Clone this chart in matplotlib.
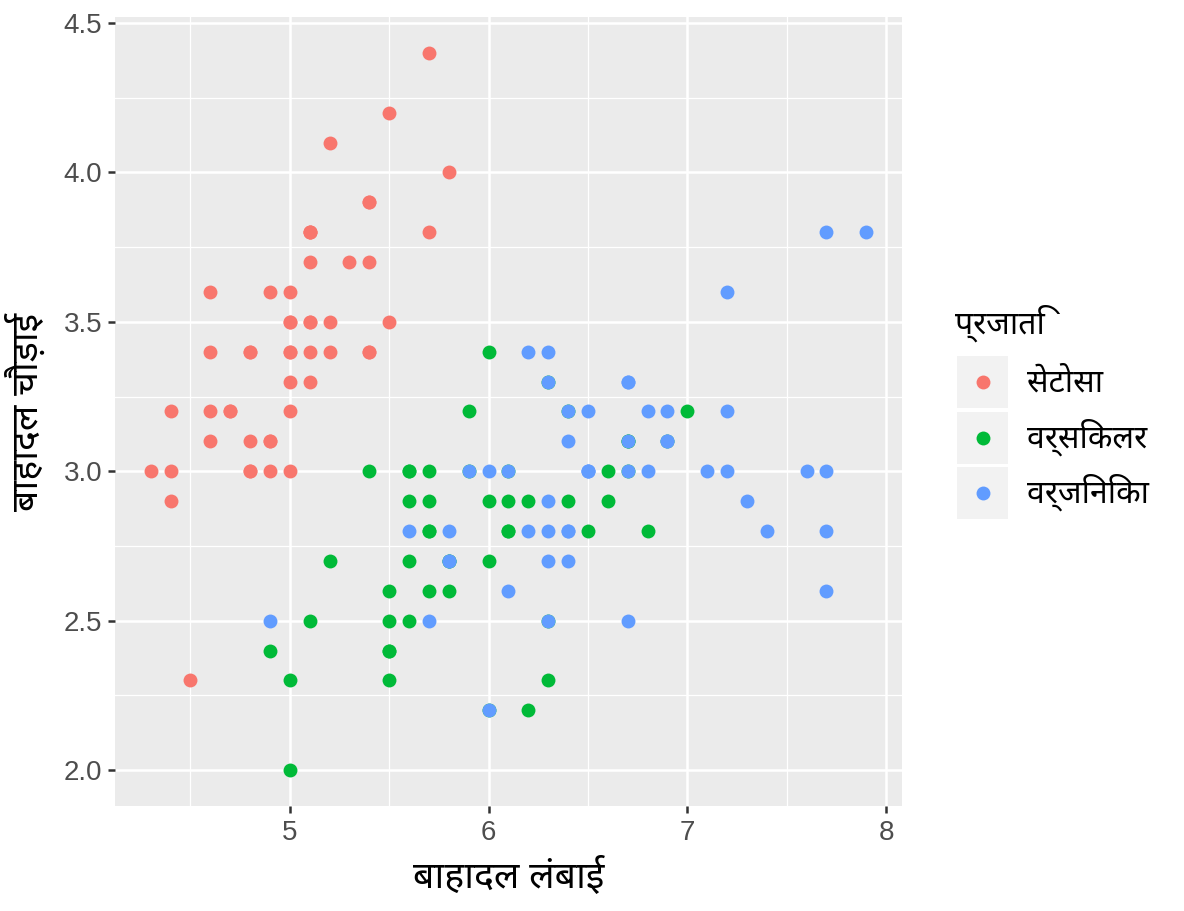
import matplotlib
matplotlib.use("Agg")
import matplotlib.pyplot as plt
from matplotlib.patches import Rectangle
from matplotlib.lines import Line2D

plt.rcParams["font.family"] = ["Noto Sans Devanagari", "Hind", "DejaVu Sans"]

# iris: sepal length / sepal width per species
species = ["सेटोसा", "वर्सिकलर", "वर्जिनिका"]
colors = ["#F8766D", "#00BA38", "#619CFF"]

setosa_len = [5.1, 4.9, 4.7, 4.6, 5.0, 5.4, 4.6, 5.0, 4.4, 4.9, 5.4, 4.8, 4.8, 4.3, 5.8, 5.7, 5.4,
              5.1, 5.7, 5.1, 5.4, 5.1, 4.6, 5.1, 4.8, 5.0, 5.0, 5.2, 5.2, 4.7, 4.8, 5.4, 5.2, 5.5,
              4.9, 5.0, 5.5, 4.9, 4.4, 5.1, 5.0, 4.5, 4.4, 5.0, 5.1, 4.8, 5.1, 4.6, 5.3, 5.0]
setosa_wid = [3.5, 3.0, 3.2, 3.1, 3.6, 3.9, 3.4, 3.4, 2.9, 3.1, 3.7, 3.4, 3.0, 3.0, 4.0, 4.4, 3.9,
              3.5, 3.8, 3.8, 3.4, 3.7, 3.6, 3.3, 3.4, 3.0, 3.4, 3.5, 3.4, 3.2, 3.1, 3.4, 4.1, 4.2,
              3.1, 3.2, 3.5, 3.6, 3.0, 3.4, 3.5, 2.3, 3.2, 3.5, 3.8, 3.0, 3.8, 3.2, 3.7, 3.3]
versi_len = [7.0, 6.4, 6.9, 5.5, 6.5, 5.7, 6.3, 4.9, 6.6, 5.2, 5.0, 5.9, 6.0, 6.1, 5.6, 6.7, 5.6,
             5.8, 6.2, 5.6, 5.9, 6.1, 6.3, 6.1, 6.4, 6.6, 6.8, 6.7, 6.0, 5.7, 5.5, 5.5, 5.8, 6.0,
             5.4, 6.0, 6.7, 6.3, 5.6, 5.5, 5.5, 6.1, 5.8, 5.0, 5.6, 5.7, 5.7, 6.2, 5.1, 5.7]
versi_wid = [3.2, 3.2, 3.1, 2.3, 2.8, 2.8, 3.3, 2.4, 2.9, 2.7, 2.0, 3.0, 2.2, 2.9, 2.9, 3.1, 3.0,
             2.7, 2.2, 2.5, 3.2, 2.8, 2.5, 2.8, 2.9, 3.0, 2.8, 3.0, 2.9, 2.6, 2.4, 2.4, 2.7, 2.7,
             3.0, 3.4, 3.1, 2.3, 3.0, 2.5, 2.6, 3.0, 2.6, 2.3, 2.7, 3.0, 2.9, 2.9, 2.5, 2.8]
virg_len = [6.3, 5.8, 7.1, 6.3, 6.5, 7.6, 4.9, 7.3, 6.7, 7.2, 6.5, 6.4, 6.8, 5.7, 5.8, 6.4, 6.5,
            7.7, 7.7, 6.0, 6.9, 5.6, 7.7, 6.3, 6.7, 7.2, 6.2, 6.1, 6.4, 7.2, 7.4, 7.9, 6.4, 6.3,
            6.1, 7.7, 6.3, 6.4, 6.0, 6.9, 6.7, 6.9, 5.8, 6.8, 6.7, 6.7, 6.3, 6.5, 6.2, 5.9]
virg_wid = [3.3, 2.7, 3.0, 2.9, 3.0, 3.0, 2.5, 2.9, 2.5, 3.6, 3.2, 2.7, 3.0, 2.5, 2.8, 3.2, 3.0,
            3.8, 2.6, 2.2, 3.2, 2.8, 2.8, 2.7, 3.3, 3.2, 2.8, 3.0, 2.8, 3.0, 2.8, 3.8, 2.8, 2.8,
            2.6, 3.0, 3.4, 3.1, 3.0, 3.1, 3.1, 3.1, 2.7, 3.2, 3.3, 3.0, 2.5, 3.0, 3.4, 3.0]

x_ticks = [5, 6, 7, 8]
y_ticks = [2.0, 2.5, 3.0, 3.5, 4.0, 4.5]

fig = plt.figure(figsize=(11.84, 9.11), dpi=100)
ax = fig.add_axes([0.0971, 0.1153, 0.6647, 0.866])
ax.set_facecolor("#EBEBEB")
for s in ax.spines.values():
    s.set_visible(False)

for lx, wy, c in zip([setosa_len, versi_len, virg_len], [setosa_wid, versi_wid, virg_wid], colors):
    ax.scatter(lx, wy, s=100, color=c, linewidths=0, zorder=3)

ax.set_xlim(4.12, 8.08)
ax.set_ylim(1.88, 4.52)
ax.set_xticks(x_ticks)
ax.set_xticklabels([str(v) for v in x_ticks])
ax.set_yticks(y_ticks)
ax.set_yticklabels([f"{v:.1f}" for v in y_ticks])
ax.set_xticks([4.5, 5.5, 6.5, 7.5], minor=True)
ax.set_yticks([2.25, 2.75, 3.25, 3.75, 4.25], minor=True)
ax.grid(which="major", color="white", linewidth=1.8, zorder=0)
ax.grid(which="minor", color="white", linewidth=0.9, zorder=0)
ax.set_axisbelow(True)
ax.tick_params(which="major", length=5, width=1.8, color="#333333", labelcolor="#4D4D4D",
               labelsize=20, pad=4, labelfontfamily="Liberation Sans")
ax.tick_params(axis="x", which="major", pad=5)
ax.tick_params(which="minor", length=0)

ax.set_xlabel("बाहादल लंबाई", fontsize=27, labelpad=9)
ax.set_ylabel("बाहादल चौड़ाई", fontsize=27, labelpad=12)

# legend
fig.text(955 / 1184, 1 - 334 / 911, "प्रजाति", fontsize=23, ha="left", va="baseline")
for i, (lab, c) in enumerate(zip(species, colors)):
    top = 356 + i * 55.5
    fig.patches.append(Rectangle((957 / 1184, 1 - (top + 52) / 911), 51 / 1184, 52 / 911,
                                 transform=fig.transFigure, facecolor="#F2F2F2", edgecolor="none"))
    fig.lines.append(Line2D([982.5 / 1184], [1 - (top + 26) / 911], transform=fig.transFigure,
                            marker="o", markersize=10, color=c, markeredgewidth=0, linestyle="none"))
    fig.text(1027 / 1184, 1 - (top + 36) / 911, lab, fontsize=23, ha="left", va="baseline")

fig.savefig("out.png")
